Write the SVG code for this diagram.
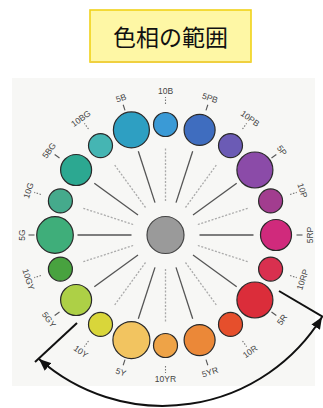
<svg xmlns="http://www.w3.org/2000/svg" width="323" height="408" viewBox="0 0 323 408">
<style>
.hue{stroke:#2a2a2a;stroke-width:1.2}
.lbl{font-family:"Liberation Sans","DejaVu Sans",sans-serif;font-size:8.5px;fill:#444;text-anchor:middle;dominant-baseline:central}
.tk{stroke:#555;stroke-width:1.1}
.tkd{stroke:#777;stroke-width:1.1;stroke-dasharray:1.5 1.5}
.sp{stroke:#555;stroke-width:1.3}
.spd{stroke:#aaa;stroke-width:1.3;stroke-dasharray:2 1.6}
.arw{stroke:#111;stroke-width:2;fill:none}
</style>
<defs>
<marker id="ah" markerUnits="userSpaceOnUse" markerWidth="13" markerHeight="10" refX="12" refY="5" orient="auto-start-reverse">
<path d="M0,0 L12,5 L0,10 z" fill="#111"/>
</marker>
</defs>
<rect x="0" y="0" width="323" height="408" fill="#ffffff"/>
<rect x="12" y="78" width="303" height="308" fill="#f7f7f5"/>

<g id="title">
<rect x="90" y="10" width="161" height="52" fill="#fef7a5" stroke="#f0d21a" stroke-width="1.6"/>
<line x1="90" y1="62" x2="251" y2="62" stroke="#f0d040" stroke-width="2.2"/>
<text x="170.5" y="45.5" font-family="'Noto Sans CJK JP','Noto Sans CJK SC',sans-serif" font-size="23" fill="#111" text-anchor="middle">色相の範囲</text>
</g>

<g id="connectors">
<line class="spd" x1="165.5" y1="201" x2="165.5" y2="147" transform="rotate(0 165.5 235)"/>
<line class="sp" x1="165.5" y1="201" x2="165.5" y2="147" transform="rotate(18 165.5 235)"/>
<line class="spd" x1="165.5" y1="201" x2="165.5" y2="147" transform="rotate(36 165.5 235)"/>
<line class="sp" x1="165.5" y1="201" x2="165.5" y2="147" transform="rotate(54 165.5 235)"/>
<line class="spd" x1="165.5" y1="201" x2="165.5" y2="147" transform="rotate(72 165.5 235)"/>
<line class="sp" x1="165.5" y1="201" x2="165.5" y2="147" transform="rotate(90 165.5 235)"/>
<line class="spd" x1="165.5" y1="201" x2="165.5" y2="147" transform="rotate(108 165.5 235)"/>
<line class="sp" x1="165.5" y1="201" x2="165.5" y2="147" transform="rotate(126 165.5 235)"/>
<line class="spd" x1="165.5" y1="201" x2="165.5" y2="147" transform="rotate(144 165.5 235)"/>
<line class="sp" x1="165.5" y1="201" x2="165.5" y2="147" transform="rotate(162 165.5 235)"/>
<line class="spd" x1="165.5" y1="201" x2="165.5" y2="147" transform="rotate(180 165.5 235)"/>
<line class="sp" x1="165.5" y1="201" x2="165.5" y2="147" transform="rotate(198 165.5 235)"/>
<line class="spd" x1="165.5" y1="201" x2="165.5" y2="147" transform="rotate(216 165.5 235)"/>
<line class="sp" x1="165.5" y1="201" x2="165.5" y2="147" transform="rotate(234 165.5 235)"/>
<line class="spd" x1="165.5" y1="201" x2="165.5" y2="147" transform="rotate(252 165.5 235)"/>
<line class="sp" x1="165.5" y1="201" x2="165.5" y2="147" transform="rotate(270 165.5 235)"/>
<line class="spd" x1="165.5" y1="201" x2="165.5" y2="147" transform="rotate(288 165.5 235)"/>
<line class="sp" x1="165.5" y1="201" x2="165.5" y2="147" transform="rotate(306 165.5 235)"/>
<line class="spd" x1="165.5" y1="201" x2="165.5" y2="147" transform="rotate(324 165.5 235)"/>
<line class="sp" x1="165.5" y1="201" x2="165.5" y2="147" transform="rotate(342 165.5 235)"/>
<line class="arw" x1="77" y1="323" x2="35" y2="362"/>
<line class="arw" x1="279" y1="291" x2="323" y2="317"/>
<path class="arw" d="M 39 359 A 187 187 0 0 0 322 317" marker-start="url(#ah)" marker-end="url(#ah)"/>
</g>

<g id="center"><circle cx="165.5" cy="235" r="18.5" fill="#9a9a9a" stroke="#444" stroke-width="1.2"/></g>

<g id="h10B"><circle class="hue" cx="165.5" cy="124.5" r="12" fill="#3a9ad6"/><line class="tkd" x1="165.5" y1="104" x2="165.5" y2="97"/><text class="lbl" x="165.5" y="91">10B</text></g>
<g id="h5PB"><circle class="hue" cx="199.6" cy="129.9" r="15.5" fill="#3f6dbf"/><line class="tk" x1="165.5" y1="104" x2="165.5" y2="98" transform="rotate(18 165.5 235)"/><text class="lbl" x="210" y="98" transform="rotate(18 210 98)">5PB</text></g>
<g id="h10PB"><circle class="hue" cx="230.5" cy="145.6" r="12" fill="#6b5bb5"/><line class="tkd" x1="165.5" y1="104" x2="165.5" y2="97" transform="rotate(36 165.5 235)"/><text class="lbl" x="250.1" y="118.5" transform="rotate(36 250.1 118.5)">10PB</text></g>
<g id="h5P"><circle class="hue" cx="254.9" cy="170" r="18" fill="#8b4ba8"/><line class="tk" x1="165.5" y1="104" x2="165.5" y2="98" transform="rotate(54 165.5 235)"/><text class="lbl" x="282" y="150.4" transform="rotate(54 282 150.4)">5P</text></g>
<g id="h10P"><circle class="hue" cx="270.6" cy="200.9" r="12" fill="#a23d8f"/><line class="tkd" x1="165.5" y1="104" x2="165.5" y2="97" transform="rotate(72 165.5 235)"/><text class="lbl" x="302.5" y="190.5" transform="rotate(72 302.5 190.5)">10P</text></g>
<g id="h5RP"><circle class="hue" cx="276" cy="235" r="15.5" fill="#d02a7c"/><line class="tk" x1="165.5" y1="104" x2="165.5" y2="98" transform="rotate(90 165.5 235)"/><text class="lbl" x="309.5" y="235" transform="rotate(-90 309.5 235)">5RP</text></g>
<g id="h10RP"><circle class="hue" cx="270.6" cy="269.1" r="12" fill="#d9304f"/><line class="tkd" x1="165.5" y1="104" x2="165.5" y2="97" transform="rotate(108 165.5 235)"/><text class="lbl" x="302.5" y="279.5" transform="rotate(-72 302.5 279.5)">10RP</text></g>
<g id="h5R"><circle class="hue" cx="254.9" cy="300" r="18" fill="#db2d3a"/><line class="tk" x1="165.5" y1="104" x2="165.5" y2="98" transform="rotate(126 165.5 235)"/><text class="lbl" x="282" y="319.6" transform="rotate(-54 282 319.6)">5R</text></g>
<g id="h10R"><circle class="hue" cx="230.5" cy="324.4" r="12" fill="#e64f2c"/><line class="tkd" x1="165.5" y1="104" x2="165.5" y2="97" transform="rotate(144 165.5 235)"/><text class="lbl" x="250.1" y="351.5" transform="rotate(-36 250.1 351.5)">10R</text></g>
<g id="h5YR"><circle class="hue" cx="199.6" cy="340.1" r="15.5" fill="#eb8838"/><line class="tk" x1="165.5" y1="104" x2="165.5" y2="98" transform="rotate(162 165.5 235)"/><text class="lbl" x="210" y="372" transform="rotate(-18 210 372)">5YR</text></g>
<g id="h10YR"><circle class="hue" cx="165.5" cy="345.5" r="12" fill="#eea347"/><line class="tkd" x1="165.5" y1="104" x2="165.5" y2="97" transform="rotate(180 165.5 235)"/><text class="lbl" x="165.5" y="379">10YR</text></g>
<g id="h5Y"><circle class="hue" cx="131.4" cy="340.1" r="18.5" fill="#f2c460"/><line class="tk" x1="165.5" y1="104" x2="165.5" y2="98" transform="rotate(198 165.5 235)"/><text class="lbl" x="121" y="372" transform="rotate(18 121 372)">5Y</text></g>
<g id="h10Y"><circle class="hue" cx="100.5" cy="324.4" r="12" fill="#d9d63a"/><line class="tkd" x1="165.5" y1="104" x2="165.5" y2="97" transform="rotate(216 165.5 235)"/><text class="lbl" x="80.9" y="351.5" transform="rotate(36 80.9 351.5)">10Y</text></g>
<g id="h5GY"><circle class="hue" cx="76.1" cy="300" r="15.5" fill="#add046"/><line class="tk" x1="165.5" y1="104" x2="165.5" y2="98" transform="rotate(234 165.5 235)"/><text class="lbl" x="49" y="319.6" transform="rotate(54 49 319.6)">5GY</text></g>
<g id="h10GY"><circle class="hue" cx="60.4" cy="269.1" r="12" fill="#48a23f"/><line class="tkd" x1="165.5" y1="104" x2="165.5" y2="97" transform="rotate(252 165.5 235)"/><text class="lbl" x="28.5" y="279.5" transform="rotate(72 28.5 279.5)">10GY</text></g>
<g id="h5G"><circle class="hue" cx="55" cy="235" r="18.3" fill="#3fae7a"/><line class="tk" x1="165.5" y1="104" x2="165.5" y2="98" transform="rotate(270 165.5 235)"/><text class="lbl" x="21.5" y="235" transform="rotate(-90 21.5 235)">5G</text></g>
<g id="h10G"><circle class="hue" cx="60.4" cy="200.9" r="12" fill="#45aa8c"/><line class="tkd" x1="165.5" y1="104" x2="165.5" y2="97" transform="rotate(288 165.5 235)"/><text class="lbl" x="28.5" y="190.5" transform="rotate(-72 28.5 190.5)">10G</text></g>
<g id="h5BG"><circle class="hue" cx="76.1" cy="170" r="15.5" fill="#2ca891"/><line class="tk" x1="165.5" y1="104" x2="165.5" y2="98" transform="rotate(306 165.5 235)"/><text class="lbl" x="49" y="150.4" transform="rotate(-54 49 150.4)">5BG</text></g>
<g id="h10BG"><circle class="hue" cx="100.5" cy="145.6" r="12" fill="#45b5b3"/><line class="tkd" x1="165.5" y1="104" x2="165.5" y2="97" transform="rotate(324 165.5 235)"/><text class="lbl" x="80.9" y="118.5" transform="rotate(-36 80.9 118.5)">10BG</text></g>
<g id="h5B"><circle class="hue" cx="131.4" cy="129.9" r="18" fill="#2e9fc2"/><line class="tk" x1="165.5" y1="104" x2="165.5" y2="98" transform="rotate(342 165.5 235)"/><text class="lbl" x="121" y="98" transform="rotate(-18 121 98)">5B</text></g>
</svg>
